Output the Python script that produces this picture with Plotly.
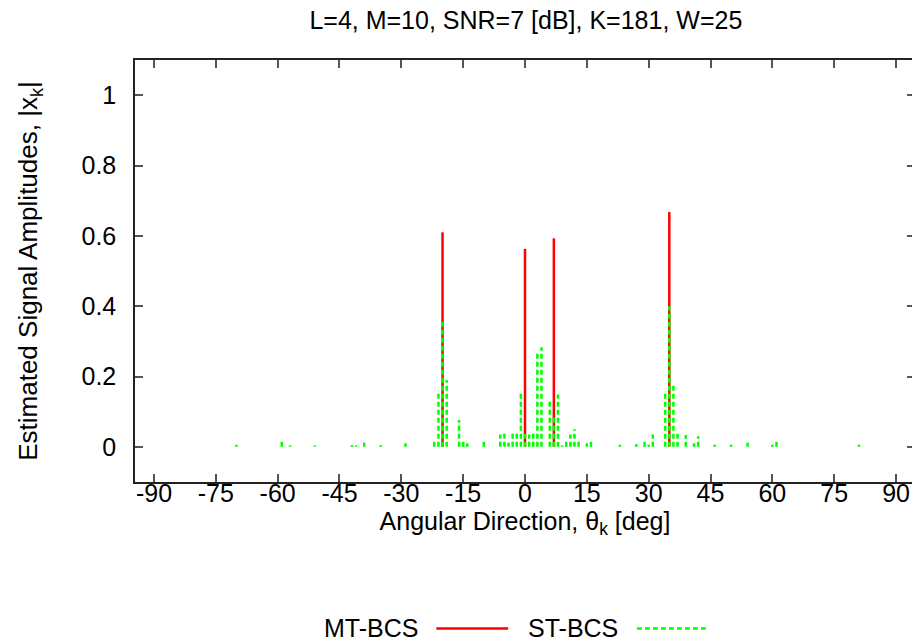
import plotly.graph_objects as go

# ---------------- data ----------------
mt_angles = [-20, 0, 7, 35]
mt_values = [0.61, 0.563, 0.593, 0.668]

st_angles = [-70, -59, -57, -51, -42, -41, -39, -35, -29, -22, -21, -20, -19,
             -16, -15, -14, -10, -6, -5, -4, -3, -2, -1, 0, 1, 2, 3, 4, 6, 7,
             8, 9, 10, 11, 12, 13, 15, 16, 23, 27, 29, 30, 31, 34, 35, 36, 37,
             39, 41, 42, 46, 50, 54, 60, 61, 81]
st_values = [0.006, 0.015, 0.004, 0.004, 0.005, 0.004, 0.012, 0.005, 0.01,
             0.016, 0.154, 0.36, 0.19, 0.076, 0.016, 0.01, 0.016, 0.035, 0.04,
             0.012, 0.04, 0.04, 0.154, 0.04, 0.035, 0.038, 0.269, 0.283, 0.13,
             0.083, 0.149, 0.004, 0.016, 0.035, 0.05, 0.016, 0.01, 0.016,
             0.006, 0.008, 0.015, 0.006, 0.035, 0.154, 0.40, 0.175, 0.04,
             0.034, 0.01, 0.03, 0.006, 0.006, 0.012, 0.006, 0.018, 0.006]

x_ticks = [-90, -75, -60, -45, -30, -15, 0, 15, 30, 45, 60, 75, 90]
x_tick_labels = ["-90", "-75", "-60", "-45", "-30", "-15", "0", "15", "30",
                 "45", "60", "75", "90"]
y_ticks = [0, 0.2, 0.4, 0.6, 0.8, 1]
y_tick_labels = ["0", "0.2", "0.4", "0.6", "0.8", "1"]

title_text = "L=4, M=10, SNR=7 [dB], K=181, W=25"
x_title = "Angular Direction, θ<sub>k</sub> [deg]"
y_title = "Estimated Signal Amplitudes, |x<sub>k</sub>|"
series_names = ["MT-BCS", "ST-BCS"]


def stems(xs, ys):
    sx, sy = [], []
    for a, v in zip(xs, ys):
        sx += [a, a, None]
        sy += [0, v, None]
    return sx, sy


FONT = "Liberation Sans, Arial, sans-serif"
FS = 25

# page body has an 8px margin: figure coords = page coords - 8
W, H = 912, 636
PL, PR, PT, PB = 135, 916.7, 60, 481.7   # plot frame in page pixels


def px(v):
    return (v - PL) / (PR - PL)


def py(v):
    return (PB - v) / (PB - PT)


fig = go.Figure()
mx, my = stems(mt_angles, mt_values)
fig.add_trace(go.Scatter(x=mx, y=my, mode="lines", name=series_names[0],
                         line=dict(color="#ff0000", width=2.5),
                         showlegend=False))
sx, sy = stems(st_angles, st_values)
fig.add_trace(go.Scatter(x=sx, y=sy, mode="lines", name=series_names[1],
                         line=dict(color="#00ff00", width=2.5, dash="5px,3px"),
                         showlegend=False))

axis_common = dict(showline=True, linecolor="#222222", linewidth=1.5,
                   mirror="ticks", ticks="inside", ticklen=8,
                   tickcolor="#555555", tickwidth=1.5, showgrid=False,
                   zeroline=False,
                   tickfont=dict(family=FONT, size=FS, color="black"))

fig.update_layout(
    width=W, height=H,
    margin=dict(l=PL - 8, r=W - (PR - 8), t=PT - 8, b=H - (PB - 8)),
    paper_bgcolor="white", plot_bgcolor="white",
    title=dict(text=title_text, x=((PL + PR) / 2 - 8) / W, xanchor="center",
               y=1 - (20 - 8) / H, yanchor="middle",
               font=dict(family=FONT, size=FS, color="black")),
    xaxis=dict(range=[-94.6, 94.6], tickvals=x_ticks, ticktext=x_tick_labels,
               ticklabelstandoff=-12,
               title=dict(text=x_title, standoff=6,
                          font=dict(family=FONT, size=FS, color="black")),
               **axis_common),
    yaxis=dict(range=[-0.1, 1.1], tickvals=y_ticks, ticktext=y_tick_labels,
               ticklabelstandoff=12,
               title=dict(text=y_title, standoff=36,
                          font=dict(family=FONT, size=26, color="black")),
               **axis_common),
)

# gnuplot-style legend below the plot: text followed by line sample
ly = py(628)
fig.add_annotation(x=px(421), y=ly, xref="paper", yref="paper",
                   text=series_names[0], showarrow=False, xanchor="right",
                   yanchor="middle", font=dict(family=FONT, size=FS, color="black"))
fig.add_shape(type="line", xref="paper", yref="paper", x0=px(437), x1=px(509),
              y0=ly, y1=ly, line=dict(color="#ff0000", width=2.5))
fig.add_annotation(x=px(621), y=ly, xref="paper", yref="paper",
                   text=series_names[1], showarrow=False, xanchor="right",
                   yanchor="middle", font=dict(family=FONT, size=FS, color="black"))
fig.add_shape(type="line", xref="paper", yref="paper", x0=px(638), x1=px(708),
              y0=ly, y1=ly, line=dict(color="#00ff00", width=2.5, dash="5px,3px"))

fig.write_html("out.html")
